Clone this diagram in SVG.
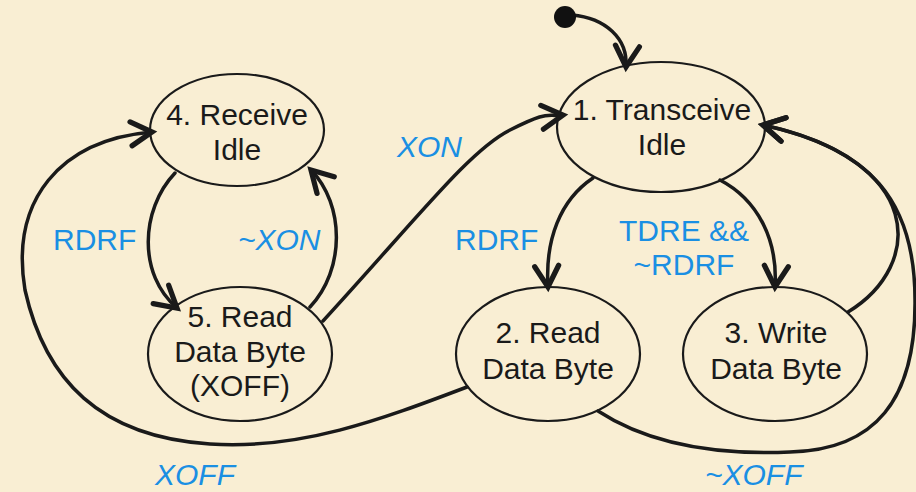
<svg xmlns="http://www.w3.org/2000/svg" width="916" height="492" viewBox="0 0 916 492">
  <defs>
    <marker id="arr" markerUnits="userSpaceOnUse" markerWidth="30" markerHeight="30" refX="0" refY="0" viewBox="-16 -10 20 20" orient="auto" overflow="visible">
      <path d="M -14 -8 L 0 0 L -14 8" fill="none" stroke="#1a1a1a" stroke-width="3.5" stroke-linecap="round" stroke-linejoin="miter"/>
    </marker>
    <style>
      .node ellipse { fill: none; stroke: #1a1a1a; stroke-width: 2.2; }
      .node text { font-family: "Liberation Sans", Arial, sans-serif; font-size: 30px; fill: #1a1a1a; text-anchor: middle; }
      .edge { fill: none; stroke: #1a1a1a; stroke-width: 3.5; stroke-linecap: round; }
      .lbl { font-family: "Liberation Sans", Arial, sans-serif; font-size: 30px; fill: #1a8fe3; }
      .it { font-style: italic; }
    </style>
  </defs>
  <rect x="0" y="0" width="916" height="492" fill="#f9eed3"/>

  <g id="connectors">
    <path class="edge" d="M 572 15 C 605 18, 628 38, 626 67" marker-end="url(#arr)"/>
    <path class="edge" d="M 175 173 C 140 210, 138 275, 177 308" marker-end="url(#arr)"/>
    <path class="edge" d="M 310 307 C 345 270, 345 205, 311 170" marker-end="url(#arr)"/>
    <path class="edge" d="M 323 321 C 420 215, 470 150, 510 130 S 545 117, 563 115" marker-end="url(#arr)"/>
    <path class="edge" d="M 593 178 C 560 200, 545 240, 548 287" marker-end="url(#arr)"/>
    <path class="edge" d="M 720 180 C 758 200, 778 240, 775 287" marker-end="url(#arr)"/>
    <path class="edge" d="M 848 312 C 925 265, 925 160, 763 125" marker-end="url(#arr)"/>
    <path class="edge" d="M 598 411 C 650 445, 720 455, 790 452 C 875 450, 916 400, 915 300 C 915 200, 870 148, 763 125" marker-end="url(#arr)"/>
    <path class="edge" d="M 467 387 C 380 420, 300 450, 210 444 C 100 437, 45 380, 25 290 C 10 200, 60 140, 152 132" marker-end="url(#arr)"/>
  </g>

  <g id="init">
    <circle cx="565" cy="17" r="11" fill="#111"/>
  </g>

  <g id="node1" class="node">
    <ellipse cx="661" cy="127" rx="104" ry="65"/>
    <text x="662" y="120">1. Transceive</text>
    <text x="662" y="155">Idle</text>
  </g>
  <g id="node2" class="node">
    <ellipse cx="548" cy="354" rx="92" ry="67"/>
    <text x="548" y="343">2. Read</text>
    <text x="548" y="379">Data Byte</text>
  </g>
  <g id="node3" class="node">
    <ellipse cx="775" cy="354" rx="92" ry="67"/>
    <text x="776" y="343">3. Write</text>
    <text x="776" y="379">Data Byte</text>
  </g>
  <g id="node4" class="node">
    <ellipse cx="237" cy="130" rx="87" ry="56"/>
    <text x="237" y="125">4. Receive</text>
    <text x="237" y="160">Idle</text>
  </g>
  <g id="node5" class="node">
    <ellipse cx="240" cy="354" rx="92" ry="67"/>
    <text x="240" y="327">5. Read</text>
    <text x="240" y="362">Data Byte</text>
    <text x="240" y="396">(XOFF)</text>
  </g>

  <g id="labels">
    <text class="lbl" x="53" y="250">RDRF</text>
    <text class="lbl it" x="238" y="250">~XON</text>
    <text class="lbl it" x="397" y="157">XON</text>
    <text class="lbl" x="455" y="250">RDRF</text>
    <text class="lbl" x="684" y="241" text-anchor="middle">TDRE &amp;&amp;</text>
    <text class="lbl" x="684" y="275" text-anchor="middle">~RDRF</text>
    <text class="lbl it" x="155" y="485">XOFF</text>
    <text class="lbl it" x="705" y="485">~XOFF</text>
  </g>
</svg>
